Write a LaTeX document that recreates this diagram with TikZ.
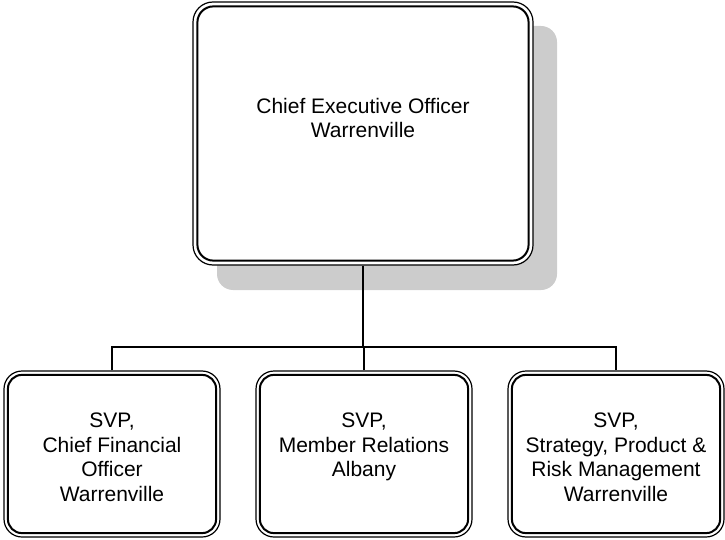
\documentclass[tikz,border=0pt]{standalone}
\usepackage{fontspec}
\setmainfont{Liberation Sans}
\definecolor{shadowgray}{RGB}{204,204,204}
\begin{document}
\begin{tikzpicture}[x=1pt,y=-1pt,
  outerbox/.style={draw, line width=1.2pt, fill=white, inner sep=0pt},
  topbox/.style={outerbox, minimum width=340pt, minimum height=263pt, rounded corners=20pt},
  subbox/.style={outerbox, minimum width=216pt, minimum height=166pt, rounded corners=18pt},
  innerline/.style={line width=2pt},
  txt/.style={align=center, inner sep=0pt, anchor=north, font=\fontsize{21}{24.5}\selectfont},
  conn/.style={line width=1.5pt},
  shadowbox/.style={fill=shadowgray, rounded corners=16pt}]
\useasboundingbox (0,0) rectangle (725,540);
% shadow
\fill[shadowbox] (217,26) rectangle (557,290);
% boxes
\node[topbox] (ceo) at (363,133.5) {};
\node[subbox] (cfo) at (112,454) {};
\node[subbox] (mr)  at (364,454) {};
\node[subbox] (spr) at (616,454) {};
% inner lines
\draw[innerline, rounded corners=16pt] ([shift={(5pt,-5pt)}]ceo.north west) rectangle ([shift={(-5pt,5pt)}]ceo.south east);
\foreach \n in {cfo,mr,spr}
  \draw[innerline, rounded corners=14pt] ([shift={(4.5pt,-4.5pt)}]\n.north west) rectangle ([shift={(-4.5pt,4.5pt)}]\n.south east);
% texts
\node[txt] (ceot) at (363,98) {Chief Executive Officer\\Warrenville};
\node[txt] (cfot) at (112,413) {SVP,\\Chief Financial\\Officer\\Warrenville};
\node[txt] (mrt)  at (364,413) {SVP,\\Member Relations\\Albany};
\node[txt] (sprt) at (616,413) {SVP,\\Strategy, Product \&\\Risk Management\\Warrenville};
% connectors
\coordinate (bus) at (363,347);
\draw[line width=2pt] (ceo.south) -- (bus);
\draw[conn] (cfo.north) |- (bus) -| (spr.north);
\draw[conn] (mr.north) -- (mr.north |- bus);
\end{tikzpicture}
\end{document}
